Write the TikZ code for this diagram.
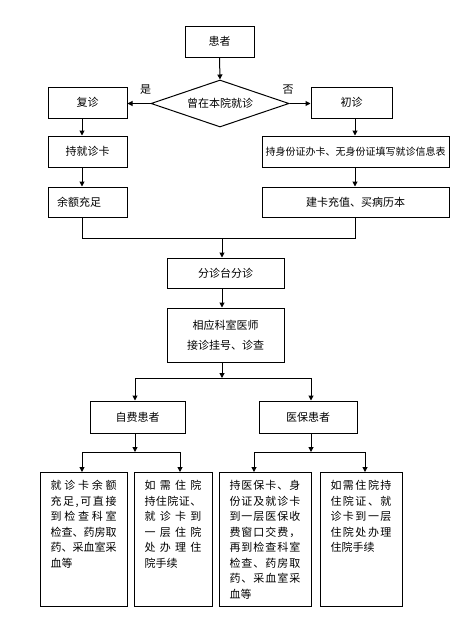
\documentclass[tikz,border=0pt]{standalone}
\usepackage{fontspec}
\setmainfont{Noto Sans CJK SC}
\usetikzlibrary{arrows.meta,shapes.geometric}
\def\jspr#1{#1\futurelet\jnext\jsprb}
\def\jsprb{\ifx\jnext\relax\expandafter\jgob\else\hfil\expandafter\jspr\fi}
\def\jgob#1{}
\newcommand{\jfy}[1]{\makebox[\linewidth][s]{\jspr#1\relax}}
\newcommand{\lowtext}[2]{\parbox[c][118pt][t]{#1}{\fontsize{11pt}{15.5pt}\selectfont #2}}
\begin{document}
\begin{tikzpicture}[x=1pt,y=-1pt,
  box/.style={draw,line width=1pt,inner sep=0pt,font=\fontsize{11pt}{13pt}\selectfont,align=center},
  lowbox/.style={draw,line width=1pt,inner xsep=10.5pt,inner ysep=8pt,anchor=north},
  arr/.style={line width=1pt,-{Triangle[length=5pt,width=5pt]}},
  ln/.style={line width=1pt},
  lbl/.style={font=\fontsize{11pt}{13pt}\selectfont,inner sep=0pt}]
\useasboundingbox (0,0) rectangle (476,629);
% nodes
\node[box,minimum width=69pt,minimum height=31pt] (pt) at (219.5,41.5) {患者};
\node[box,diamond,aspect=2.94,minimum width=138pt,minimum height=47pt] (dm) at (220,103.5) {曾在本院就诊};
\node[box,minimum width=79pt,minimum height=31pt] (fz) at (87.5,102.5) {复诊};
\node[box,minimum width=81pt,minimum height=31pt] (cz) at (351.5,102.5) {初诊};
\node[box,minimum width=79pt,minimum height=31pt] (card) at (87.5,151.5) {持就诊卡};
\node[box,minimum width=187pt,minimum height=31pt,font=\fontsize{10pt}{12pt}\selectfont] (idc) at (355.5,151.5) {持身份证办卡、无身份证填写就诊信息表};
\node[box,minimum width=79pt,minimum height=30pt] (bal) at (87.5,202) {\makebox[61pt][l]{余额充足}};
\node[box,minimum width=187pt,minimum height=30pt] (jk) at (355.5,202) {建卡充值、买病历本};
\node[box,minimum width=117pt,minimum height=30pt] (fzt) at (225.5,273) {分诊台分诊};
\node[box,minimum width=117pt,minimum height=54pt,font=\fontsize{11pt}{20pt}\selectfont] (doc) at (225.5,335) {相应科室医师\\接诊挂号、诊查};
\node[box,minimum width=95pt,minimum height=32pt] (zf) at (137.5,417) {自费患者};
\node[box,minimum width=98pt,minimum height=32pt] (yb) at (308,417) {医保患者};
\node[lowbox] (b1) at (83.5,472) {\lowtext{66pt}{\jfy{就诊卡余额}\\\jfy{充足,可直接}\\\jfy{到检查科室}\\\jfy{检查、药房取}\\\jfy{药、采血室采}\\血等}};
\node[lowbox] (b2) at (173,472) {\lowtext{57pt}{\jfy{如需住院}\\\jfy{持住院证、}\\\jfy{就诊卡到}\\\jfy{一层住院}\\\jfy{处办理住}\\院手续}};
\node[lowbox] (b3) at (265,472) {\lowtext{71pt}{\jfy{持医保卡、身}\\\jfy{份证及就诊卡}\\\jfy{到一层医保收}\\\jfy{费窗口交费，}\\\jfy{再到检查科室}\\\jfy{检查、药房取}\\\jfy{药、采血室采}\\血等}};
\node[lowbox] (b4) at (361,472) {\lowtext{61pt}{\jfy{如需住院持}\\\jfy{住院证、就}\\\jfy{诊卡到一层}\\\jfy{住院处办理}\\住院手续}};
\node[lbl] (yes) at (145.5,90) {是};
\node[lbl] (no) at (288,90) {否};
% coordinates
\coordinate (lx) at (82,0);
\coordinate (rx) at (355,0);
\coordinate (mx) at (222,0);
\coordinate (j1) at (222,238);
\coordinate (j2) at (222,378);
\coordinate (zx) at (135,0);
\coordinate (yx) at (311,0);
\coordinate (j3) at (135,452);
\coordinate (j4) at (311,452);
\coordinate (x1) at (82,0);
\coordinate (x2) at (180,0);
\coordinate (x3) at (254,0);
\coordinate (x4) at (365,0);
% connectors
\draw[arr] (pt.south) -- (dm.north);
\draw[arr] (dm.west) -- (fz.east |- dm.west);
\draw[arr] (dm.east) -- (cz.west |- dm.east);
\draw[arr] (fz.south -| lx) -- (card.north -| lx);
\draw[arr] (card.south -| lx) -- (bal.north -| lx);
\draw[arr] (cz.south -| rx) -- (idc.north -| rx);
\draw[arr] (idc.south -| rx) -- (jk.north -| rx);
\draw[ln] (bal.south -| lx) -- (lx |- j1) -- (rx |- j1) -- (jk.south -| rx);
\draw[arr] (j1) -- (fzt.north -| j1);
\draw[arr] (fzt.south -| mx) -- (doc.north -| mx);
\draw[arr] (doc.south -| mx) -- (j2);
\draw[arr] (j2) -| (zf.north -| zx);
\draw[arr] (j2) -| (yb.north -| yx);
\draw[arr] (zf.south -| zx) -- (j3);
\draw[arr] (j3) -| (b1.north -| x1);
\draw[arr] (j3) -| (b2.north -| x2);
\draw[arr] (yb.south -| yx) -- (j4);
\draw[arr] (j4) -| (b3.north -| x3);
\draw[arr] (j4) -| (b4.north -| x4);
\end{tikzpicture}
\end{document}
